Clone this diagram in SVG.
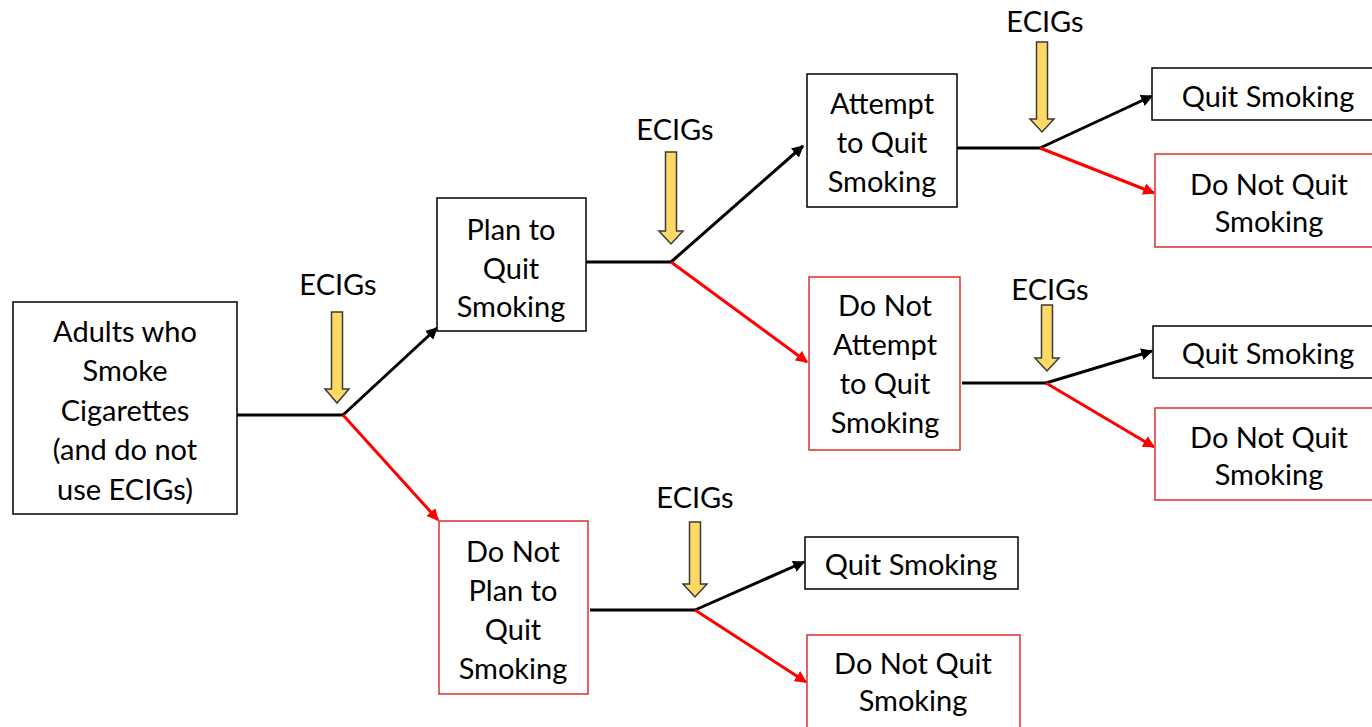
<svg xmlns="http://www.w3.org/2000/svg" width="1372" height="727" viewBox="0 0 1372 727">
<defs>
<style>
text{font-family:Lato,"Open Sans","Liberation Sans",sans-serif;font-size:29px;fill:#000;text-anchor:middle;dominant-baseline:central}
.bk{fill:#fff;stroke:#000;stroke-width:1.5}
.rd{fill:#fff;stroke:#d9302c;stroke-width:1.5}
.lb{fill:none;stroke:#000;stroke-width:3}
.lr{fill:none;stroke:#ff0000;stroke-width:3}
.ya{fill:#ffd966;stroke:#3a3a3a;stroke-width:1.5;stroke-linejoin:miter}
</style>
<marker id="ab" viewBox="0 0 10 10" refX="9" refY="5" markerWidth="4" markerHeight="4" orient="auto" markerUnits="strokeWidth"><path d="M0,0 L10,5 L0,10 z" fill="#000"/></marker>
<marker id="ar" viewBox="0 0 10 10" refX="9" refY="5" markerWidth="4" markerHeight="4" orient="auto" markerUnits="strokeWidth"><path d="M0,0 L10,5 L0,10 z" fill="#ff0000"/></marker>
</defs>
<rect width="1372" height="727" fill="#fff"/>

<g id="connectors">
<path class="lb" d="M237,415 H343"/>
<path class="lb" d="M343,415 L437,328" marker-end="url(#ab)"/>
<path class="lr" d="M343,415 L438,520" marker-end="url(#ar)"/>
<path class="lb" d="M586,262 H671"/>
<path class="lb" d="M671,262 L803,146" marker-end="url(#ab)"/>
<path class="lr" d="M671,262 L807,362" marker-end="url(#ar)"/>
<path class="lb" d="M957,148 H1040"/>
<path class="lb" d="M1040,148 L1152,96" marker-end="url(#ab)"/>
<path class="lr" d="M1040,148 L1154,193" marker-end="url(#ar)"/>
<path class="lb" d="M962,383 H1046"/>
<path class="lb" d="M1046,383 L1152,351" marker-end="url(#ab)"/>
<path class="lr" d="M1046,383 L1154,447" marker-end="url(#ar)"/>
<path class="lb" d="M590,610 H695"/>
<path class="lb" d="M695,610 L804,562" marker-end="url(#ab)"/>
<path class="lr" d="M695,610 L806,682" marker-end="url(#ar)"/>
</g>

<g id="ecigs1"><text x="338" y="283">ECIGs</text><path class="ya" d="M331.5,312 H342.5 V389 H349 L337,403 L325,389 H331.5 Z"/></g>
<g id="ecigs2"><text x="675" y="128">ECIGs</text><path class="ya" d="M665.5,152 H676.5 V231 H683 L671,244 L659,231 H665.5 Z"/></g>
<g id="ecigs3"><text x="1045" y="20">ECIGs</text><path class="ya" d="M1036.5,42 H1047.5 V119 H1054 L1042,132 L1030,119 H1036.5 Z"/></g>
<g id="ecigs4"><text x="1050" y="288">ECIGs</text><path class="ya" d="M1041.5,305 H1052.5 V358 H1059 L1047,371 L1035,358 H1041.5 Z"/></g>
<g id="ecigs5"><text x="695" y="496">ECIGs</text><path class="ya" d="M689.5,522 H700.5 V584 H707 L695,597 L683,584 H689.5 Z"/></g>

<g id="adults"><rect class="bk" x="13" y="302" width="224" height="212"/>
<text x="125" y="330">Adults who</text><text x="125" y="369">Smoke</text><text x="125" y="409">Cigarettes</text><text x="125" y="448">(and do not</text><text x="125" y="488">use ECIGs)</text></g>

<g id="plan"><rect class="bk" x="437" y="198" width="149" height="133"/>
<text x="511" y="228">Plan to</text><text x="511" y="267">Quit</text><text x="511" y="305">Smoking</text></g>

<g id="noplan"><rect class="rd" x="439" y="521" width="149" height="173"/>
<text x="513" y="550">Do Not</text><text x="513" y="589">Plan to</text><text x="513" y="628">Quit</text><text x="513" y="667">Smoking</text></g>

<g id="attempt"><rect class="bk" x="807" y="74" width="150" height="133"/>
<text x="882" y="102">Attempt</text><text x="882" y="141">to Quit</text><text x="882" y="180">Smoking</text></g>

<g id="noattempt"><rect class="rd" x="809" y="277" width="151" height="173"/>
<text x="885" y="304">Do Not</text><text x="885" y="343">Attempt</text><text x="885" y="382">to Quit</text><text x="885" y="421">Smoking</text></g>

<g id="quit1"><rect class="bk" x="1152" y="68" width="230" height="52"/><text x="1268" y="95">Quit Smoking</text></g>
<g id="noquit1"><rect class="rd" x="1155" y="154" width="230" height="93"/><text x="1269" y="183">Do Not Quit</text><text x="1269" y="220">Smoking</text></g>
<g id="quit2"><rect class="bk" x="1153" y="326" width="230" height="52"/><text x="1268" y="352">Quit Smoking</text></g>
<g id="noquit2"><rect class="rd" x="1155" y="408" width="230" height="92"/><text x="1269" y="436">Do Not Quit</text><text x="1269" y="473">Smoking</text></g>
<g id="quit3"><rect class="bk" x="805" y="537" width="213" height="52"/><text x="911" y="563">Quit Smoking</text></g>
<g id="noquit3"><rect class="rd" x="807" y="635" width="213" height="100"/><text x="913" y="662">Do Not Quit</text><text x="913" y="699">Smoking</text></g>
</svg>
